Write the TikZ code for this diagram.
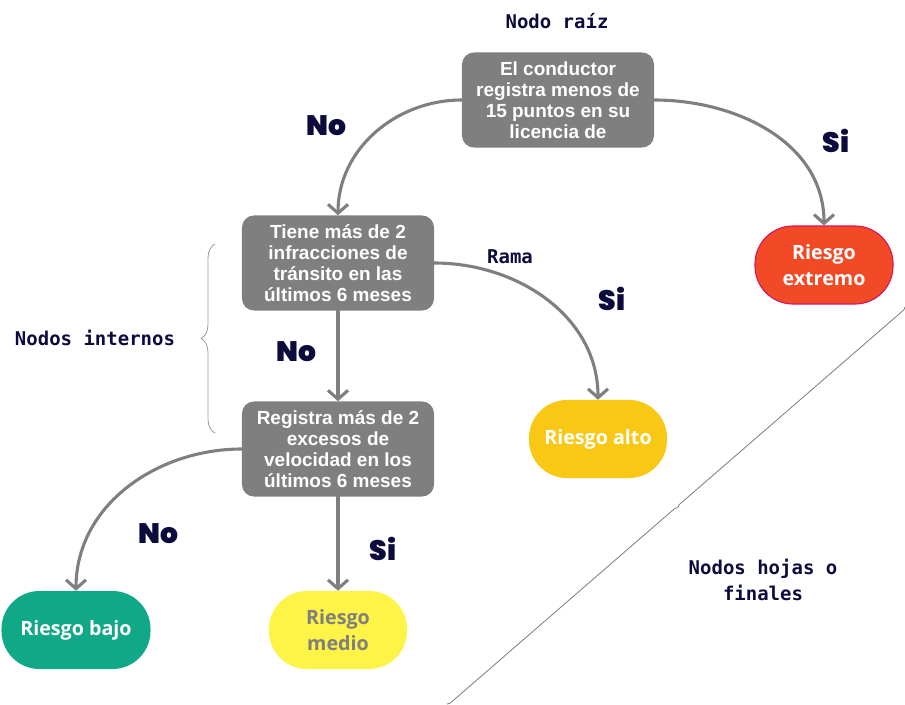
\documentclass[tikz,border=0pt]{standalone}
\usepackage{fontspec}
\setmainfont{Liberation Sans}
\newfontfamily\leaffont{Open Sans}
\newfontfamily\codefont{DejaVu Sans Mono}
\newfontfamily\heavyfont{Poppins}[UprightFont=* Black,BoldFont=* Black]
\usetikzlibrary{arrows.meta}
\usetikzlibrary{decorations.pathreplacing}
\definecolor{boxgray}{HTML}{7F7F7F}
\definecolor{navy}{HTML}{0C0B3E}
\definecolor{redrisk}{HTML}{F24A26}
\definecolor{redline}{HTML}{D6175E}
\definecolor{yellowrisk}{HTML}{F9C814}
\definecolor{lightyellow}{HTML}{FEF447}
\definecolor{greenrisk}{HTML}{10A886}
\tikzstyle{every path}=[line cap=round,line join=round]

\begin{document}
\begin{tikzpicture}[x=0.025cm,y=-0.025cm]
		\tikzstyle{arrow} = [draw=boxgray,line width=2.2pt,-{Straight Barb[length=2.2mm,width=5mm]}]
		\tikzstyle{question} = [fill=boxgray,rounded corners=0.3cm,minimum width=4.8cm,minimum height=2.375cm,align=center,text=white,inner sep=0pt,font=\fontsize{13.5}{15}\selectfont\bfseries]
		\tikzstyle{leaf} = [rounded corners=0.95cm,minimum width=3.45cm,minimum height=1.95cm,align=center,text=white,inner sep=0pt,font=\leaffont\fontsize{14}{18.4}\selectfont\bfseries]
		\tikzstyle{answer} = [text=navy,font=\heavyfont\fontsize{20}{22}\selectfont]
		\tikzstyle{note} = [text=navy,align=center,font=\codefont\fontsize{13.5}{19}\selectfont\bfseries]
		\tikzstyle{bracket} = [draw=gray!75,line width=0.6pt,decorate]
		
		\useasboundingbox (0,0) rectangle (905,704);
		
		% questions
		\node[question] (root) at (558,100) {El conductor\\registra menos de\\15 puntos en su\\licencia de};
		\node[question] (infr) at (338,263) {Tiene más de 2\\infracciones de\\tránsito en las\\últimos 6 meses};
		\node[question] (vel) at (338,449) {Registra más de 2\\excesos de\\velocidad en los\\últimos 6 meses};
		
		% leaves
		\node[leaf,fill=redrisk,draw=redline,line width=0.8pt] (extremo) at (824,265) {Riesgo\\extremo};
		\node[leaf,fill=yellowrisk] (alto) at (598,439) {Riesgo alto};
		\node[leaf,fill=greenrisk,minimum width=3.725cm] (bajo) at (76,630) {Riesgo bajo};
		\node[leaf,fill=lightyellow,text=boxgray] (medio) at (338,630) {Riesgo\\medio};
		
		% branches
		\draw[arrow] (root.west) to[out=180,in=90] (infr.north);
		\draw[arrow] (root.east) to[out=0,in=90] (extremo.north);
		\draw[arrow] (infr.east) to[out=0,in=90] (alto.north);
		\draw[arrow] (infr.south) -- (vel.north);
		\draw[arrow] (vel.west) to[out=180,in=90] (bajo.north);
		\draw[arrow] (vel.south) -- (medio.north);
		
		\node[answer] (no1) at (326,126) {No};
		\node[answer] (si1) at (836,141) {Si};
		\node[answer] (si2) at (612,299) {Si};
		\node[answer] (no2) at (296,352) {No};
		\node[answer] (no3) at (158,534) {No};
		\node[answer] (si3) at (383,549) {Si};
		
		% notes
		\node[note] (raiz) at (557,21) {Nodo raíz};
		\node[note] (rama) at (510,257) {Rama};
		\node[note] (internos) at (95,338) {Nodos internos};
		\node[note] (hojas) at (763,580) {Nodos hojas o\\finales};
		
		\coordinate (bracelow) at (215,433);
		\coordinate (bracehigh) at (215,244);
		\draw[bracket,decoration={brace,amplitude=0.35cm}] (bracelow) -- (bracehigh);
		
		\coordinate (diaglow) at (447,704);
		\coordinate (diaghigh) at (905,307);
		\draw[bracket,draw=gray,decoration={brace,amplitude=0.07cm,mirror}] (diaglow) -- (diaghigh);
		
	\end{tikzpicture}
\end{document}
